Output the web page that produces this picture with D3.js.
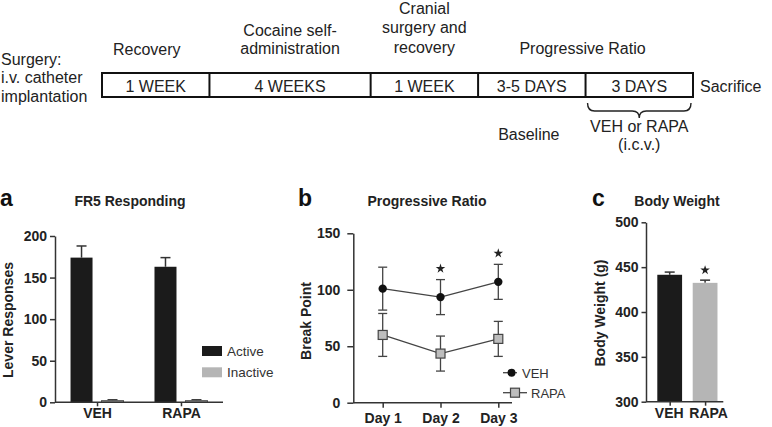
<!DOCTYPE html>
<html>
<head>
<meta charset="utf-8">
<script src="https://cdn.jsdelivr.net/npm/d3@7"></script>
<style>
  html, body { margin: 0; padding: 0; background: #fff; }
  svg { display: block; font-family: "Liberation Sans", Arial, Helvetica, sans-serif; }
</style>
</head>
<body>
<svg id="chart" width="772" height="427"></svg>
<script>
// ---------------- DATA ----------------
// Timeline
const timelineSegments = ["1 WEEK", "4 WEEKS", "1 WEEK", "3-5 DAYS", "3 DAYS"];
const timelineSegmentWeights = [1, 1.5, 1, 1, 1];
const timelineAboveLabels = [["Recovery"], ["Cocaine self-", "administration"], ["Cranial", "surgery and", "recovery"], ["Progressive Ratio"]];
const timelineStartLabel = ["Surgery:", "i.v. catheter", "implantation"];
const timelineEndLabel = "Sacrifice";
const timelineBelowLabels = [["Baseline"], ["VEH or RAPA", "(i.c.v.)"]];

// Panel a: FR5 responding
const frCategories = ["VEH", "RAPA"];
const frSeries = ["Active", "Inactive"];
const frActive = [174, 163];
const frActiveErr = [14, 11];
const frInactive = [2, 2];
const frInactiveErr = [1, 1];
const frTicks = [0, 50, 100, 150, 200];

// Panel b: Progressive ratio
const prDays = ["Day 1", "Day 2", "Day 3"];
const prSeries = ["VEH", "RAPA"];
const prVeh = [101, 93.5, 107];
const prVehErr = [19, 15.5, 15.5];
const prRapa = [60, 43.5, 56.5];
const prRapaErr = [19, 15.5, 15.5];
const prSignificant = ["Day 2", "Day 3"];
const prTicks = [0, 50, 100, 150];

// Panel c: Body weight
const bwCategories = ["VEH", "RAPA"];
const bwValues = [441.5, 432.5];
const bwErr = [3, 3];
const bwSignificant = ["RAPA"];
const bwTicks = [300, 350, 400, 450, 500];

// ---------------- DRAWING ----------------
const svg = d3.select("#chart");
const TXT = "#222";
const AX = "#333";
const BLACK = "#1b1b1b";
const GRAY = "#b5b5b5";

// ===== Timeline =====
(function () {
  const cum = [0];
  timelineSegmentWeights.forEach(w => cum.push(cum[cum.length - 1] + w));
  const x = d3.scaleLinear().domain([0, cum[cum.length - 1]]).range([102, 693]);
  const y0 = 73, y1 = 97;
  const g = svg.append("g");
  g.append("rect").attr("x", x(0)).attr("y", y0).attr("width", x(cum[cum.length - 1]) - x(0)).attr("height", y1 - y0)
    .attr("fill", "none").attr("stroke", "#111").attr("stroke-width", 2);
  cum.slice(1, -1).forEach(c => {
    g.append("line").attr("x1", x(c)).attr("x2", x(c)).attr("y1", y0).attr("y2", y1)
      .attr("stroke", "#111").attr("stroke-width", 2);
  });
  timelineSegments.forEach((s, i) => {
    g.append("text").attr("x", (x(cum[i]) + x(cum[i + 1])) / 2).attr("y", 92)
      .attr("text-anchor", "middle").attr("font-size", 16).attr("fill", TXT).text(s);
  });
  const aboveCenters = [(x(cum[0]) + x(cum[1])) / 2 - 9, (x(cum[1]) + x(cum[2])) / 2, (x(cum[2]) + x(cum[3])) / 2, x(cum[4]) - 3];
  const aboveBaselines = [55, 54, 53, 54];
  const aboveLineH = [18.5, 18.5, 19.7, 18.5];
  timelineAboveLabels.forEach((lines, i) => {
    const n = lines.length;
    lines.forEach((l, j) => {
      g.append("text").attr("x", aboveCenters[i]).attr("y", aboveBaselines[i] - (n - 1 - j) * aboveLineH[i])
        .attr("text-anchor", "middle").attr("font-size", 16).attr("fill", TXT).text(l);
    });
  });
  timelineStartLabel.forEach((l, j) => {
    g.append("text").attr("x", 1).attr("y", 65 + j * 18.4).attr("font-size", 16).attr("fill", TXT).text(l);
  });
  g.append("text").attr("x", 700).attr("y", 92).attr("font-size", 16).attr("fill", TXT).text(timelineEndLabel);

  const bx0 = x(cum[4]) + 2, bx1 = x(cum[5]) - 2, bm = (bx0 + bx1) / 2;
  const by0 = 103, by1 = 111, by2 = 118, r = 7;
  g.append("path")
    .attr("d", `M${bx0},${by0} Q${bx0},${by1} ${bx0 + r},${by1} L${bm - r},${by1} Q${bm},${by1} ${bm},${by2} Q${bm},${by1} ${bm + r},${by1} L${bx1 - r},${by1} Q${bx1},${by1} ${bx1},${by0}`)
    .attr("fill", "none").attr("stroke", "#222").attr("stroke-width", 1.4);
  g.append("text").attr("x", (x(cum[3]) + x(cum[4])) / 2 - 3).attr("y", 140)
    .attr("text-anchor", "middle").attr("font-size", 16).attr("fill", TXT).text(timelineBelowLabels[0][0]);
  timelineBelowLabels[1].forEach((l, j) => {
    g.append("text").attr("x", bm).attr("y", 131.5 + j * 18.5)
      .attr("text-anchor", "middle").attr("font-size", 16).attr("fill", TXT).text(l);
  });
})();

function styleAxis(sel, fontSize) {
  sel.selectAll("path, line").attr("stroke", AX).attr("stroke-width", 1.5);
  sel.selectAll("text").attr("font-size", fontSize).attr("font-weight", "bold").attr("fill", TXT)
    .attr("font-family", '"Liberation Sans", Arial, Helvetica, sans-serif');
}

function panelLetter(letter, x, y) {
  svg.append("text").attr("x", x).attr("y", y).attr("font-size", 23).attr("font-weight", "bold").attr("fill", "#111").text(letter);
}
function panelTitle(t, x, y) {
  svg.append("text").attr("x", x).attr("y", y).attr("text-anchor", "middle").attr("font-size", 14)
    .attr("font-weight", "bold").attr("fill", TXT).text(t);
}
function yLabel(t, x, y) {
  svg.append("text").attr("transform", `translate(${x},${y}) rotate(-90)`).attr("text-anchor", "middle")
    .attr("font-size", 14).attr("font-weight", "bold").attr("fill", TXT).text(t);
}
function errBar(g, cx, yTop, yBot, capW) {
  g.append("line").attr("x1", cx).attr("x2", cx).attr("y1", yTop).attr("y2", yBot).attr("stroke", AX).attr("stroke-width", 1.5);
  g.append("line").attr("x1", cx - capW / 2).attr("x2", cx + capW / 2).attr("y1", yTop).attr("y2", yTop).attr("stroke", AX).attr("stroke-width", 1.5);
}
function star(x, y) {
  svg.append("path").attr("d", d3.symbol().type(d3.symbolStar).size(28)()).attr("transform", `translate(${x},${y})`).attr("fill", "#222");
}

// ===== Panel a =====
(function () {
  panelLetter("a", 0, 206);
  panelTitle("FR5 Responding", 130, 206);
  yLabel("Lever Responses", 13, 320);
  const y = d3.scaleLinear().domain([0, 200]).range([402.3, 236]);
  const x0 = d3.scaleBand().domain(frCategories).range([55, 223]).paddingInner(0.369).paddingOuter(0.185);
  const x1 = d3.scaleBand().domain(frSeries).range([0, x0.bandwidth()]).paddingInner(0.29);
  const g = svg.append("g");
  const vals = { Active: frActive, Inactive: frInactive };
  const errs = { Active: frActiveErr, Inactive: frInactiveErr };
  const cols = { Active: BLACK, Inactive: GRAY };
  frCategories.forEach((c, i) => {
    frSeries.forEach(s => {
      const bx = x0(c) + x1(s);
      const v = vals[s][i], e = errs[s][i];
      errBar(g, bx + x1.bandwidth() / 2, y(v + e), y(v), 10);
      g.append("rect").attr("x", bx).attr("y", y(v)).attr("width", x1.bandwidth()).attr("height", y(0) - y(v))
        .attr("fill", cols[s]).attr("stroke", s === "Inactive" ? "#555" : "none").attr("stroke-width", 1);
    });
  });
  const ya = svg.append("g").attr("transform", "translate(55,0)")
    .call(d3.axisLeft(y).tickValues(frTicks).tickSize(5).tickPadding(3).tickSizeOuter(0));
  styleAxis(ya, 14);
  const xa = svg.append("g").attr("transform", `translate(0,${y(0)})`)
    .call(d3.axisBottom(d3.scalePoint().domain(frCategories).range([x0("VEH") + x0.bandwidth() / 2, x0("RAPA") + x0.bandwidth() / 2])).tickSize(4).tickPadding(2));
  xa.select(".domain").remove();
  styleAxis(xa, 14);
  svg.append("line").attr("x1", 55).attr("x2", 223).attr("y1", y(0)).attr("y2", y(0)).attr("stroke", AX).attr("stroke-width", 1.5);
  frSeries.forEach((s, i) => {
    svg.append("rect").attr("x", 202).attr("y", 346 + i * 21.3).attr("width", 20).attr("height", 10).attr("fill", cols[s]);
    svg.append("text").attr("x", 227).attr("y", 355.5 + i * 21.3).attr("font-size", 13.5).attr("fill", "#333").text(s);
  });
})();

// ===== Panel b =====
(function () {
  panelLetter("b", 298, 206);
  panelTitle("Progressive Ratio", 427, 206);
  yLabel("Break Point", 311, 321);
  const y = d3.scaleLinear().domain([0, 150]).range([402.7, 233.3]);
  const x = d3.scalePoint().domain(prDays).range([382.7, 498.3]);
  const ya = svg.append("g").attr("transform", "translate(353.3,0)")
    .call(d3.axisLeft(y).tickValues(prTicks).tickSize(6).tickPadding(7).tickSizeOuter(0));
  styleAxis(ya, 14);
  const xa = svg.append("g").attr("transform", `translate(0,${y(0)})`)
    .call(d3.axisBottom(x).tickSize(5).tickPadding(5));
  xa.select(".domain").remove();
  styleAxis(xa, 14);
  svg.append("line").attr("x1", 353.3).attr("x2", 512).attr("y1", y(0)).attr("y2", y(0)).attr("stroke", AX).attr("stroke-width", 1.5);

  const series = [
    { name: "VEH", v: prVeh, e: prVehErr },
    { name: "RAPA", v: prRapa, e: prRapaErr }
  ];
  const g = svg.append("g");
  series.forEach(s => {
    prDays.forEach((d, i) => {
      const cx = x(d);
      g.append("line").attr("x1", cx).attr("x2", cx).attr("y1", y(s.v[i] + s.e[i])).attr("y2", y(s.v[i] - s.e[i])).attr("stroke", "#444").attr("stroke-width", 1.3);
      [s.v[i] + s.e[i], s.v[i] - s.e[i]].forEach(vv => {
        g.append("line").attr("x1", cx - 4.5).attr("x2", cx + 4.5).attr("y1", y(vv)).attr("y2", y(vv)).attr("stroke", "#444").attr("stroke-width", 1.3);
      });
    });
    g.append("path").datum(s.v).attr("fill", "none").attr("stroke", "#444").attr("stroke-width", 1.3)
      .attr("d", d3.line().x((d, i) => x(prDays[i])).y(d => y(d)));
  });
  prDays.forEach((d, i) => {
    g.append("circle").attr("cx", x(d)).attr("cy", y(prVeh[i])).attr("r", 4.2).attr("fill", "#111");
    g.append("rect").attr("x", x(d) - 4.5).attr("y", y(prRapa[i]) - 4.5).attr("width", 9).attr("height", 9)
      .attr("fill", "#bdbdbd").attr("stroke", "#444").attr("stroke-width", 1.2);
  });
  prSignificant.forEach(d => {
    const i = prDays.indexOf(d);
    star(x(d), y(prVeh[i] + prVehErr[i]) - 11);
  });
  svg.append("line").attr("x1", 503).attr("x2", 517).attr("y1", 372.7).attr("y2", 372.7).attr("stroke", "#444").attr("stroke-width", 1.3);
  svg.append("circle").attr("cx", 511.5).attr("cy", 372.7).attr("r", 4).attr("fill", "#111");
  svg.append("text").attr("x", 522).attr("y", 377.5).attr("font-size", 13).attr("fill", "#333").text(prSeries[0]);
  svg.append("line").attr("x1", 503).attr("x2", 527).attr("y1", 392.7).attr("y2", 392.7).attr("stroke", "#444").attr("stroke-width", 1.3);
  svg.append("rect").attr("x", 510.5).attr("y", 388.2).attr("width", 9).attr("height", 9).attr("fill", "#bdbdbd").attr("stroke", "#444").attr("stroke-width", 1.2);
  svg.append("text").attr("x", 531).attr("y", 397.5).attr("font-size", 13).attr("fill", "#333").text(prSeries[1]);
})();

// ===== Panel c =====
(function () {
  panelLetter("c", 592, 206);
  panelTitle("Body Weight", 677, 206);
  yLabel("Body Weight (g)", 605, 313);
  const y = d3.scaleLinear().domain([300, 500]).range([401.7, 222.3]);
  const x = d3.scaleBand().domain(bwCategories).range([646, 723.3]).paddingInner(0.30).paddingOuter(0.242).align(0.66);
  const g = svg.append("g");
  const cols = [BLACK, GRAY];
  bwCategories.forEach((c, i) => {
    errBar(g, x(c) + x.bandwidth() / 2, y(bwValues[i] + bwErr[i]), y(bwValues[i]), 10);
    g.append("rect").attr("x", x(c)).attr("y", y(bwValues[i])).attr("width", x.bandwidth()).attr("height", y(300) - y(bwValues[i]))
      .attr("fill", cols[i]);
  });
  bwSignificant.forEach(c => {
    const i = bwCategories.indexOf(c);
    star(x(c) + x.bandwidth() / 2, y(bwValues[i] + bwErr[i]) - 10);
  });
  const ya = svg.append("g").attr("transform", "translate(646,0)")
    .call(d3.axisLeft(y).tickValues(bwTicks).tickSize(4.5).tickPadding(3).tickSizeOuter(0));
  styleAxis(ya, 14);
  const xa = svg.append("g").attr("transform", `translate(0,${y(300)})`)
    .call(d3.axisBottom(d3.scalePoint().domain(bwCategories).range([x("VEH") + x.bandwidth() / 2, x("RAPA") + x.bandwidth() / 2])).tickSize(4).tickPadding(2));
  xa.select(".domain").remove();
  styleAxis(xa, 14);
  xa.selectAll(".tick text").attr("dx", (d, i) => i === 1 ? 3 : -1);
  svg.append("line").attr("x1", 646).attr("x2", 723.3).attr("y1", y(300)).attr("y2", y(300)).attr("stroke", AX).attr("stroke-width", 1.5);
})();
</script>
</body>
</html>
